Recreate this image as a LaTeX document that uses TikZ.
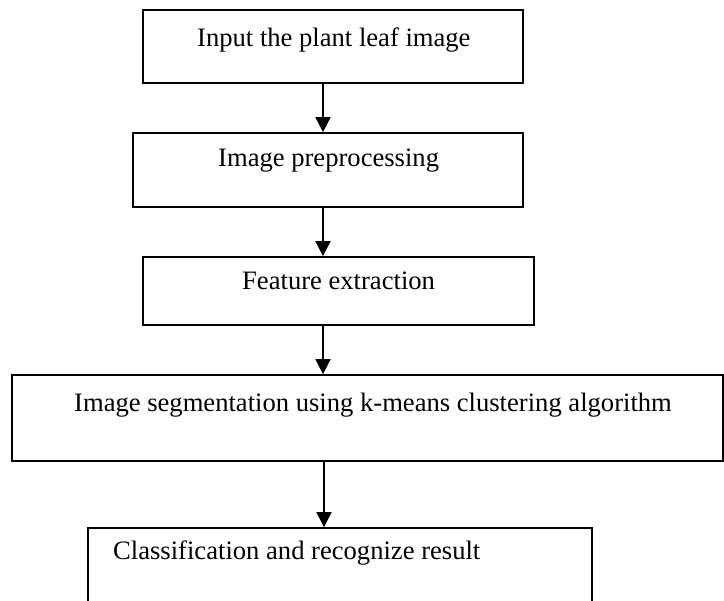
\documentclass[tikz,border=0pt]{standalone}
\usepackage{fontspec}
\setmainfont{Liberation Serif}
\usetikzlibrary{arrows.meta}
\begin{document}
\begin{tikzpicture}[x=1pt,y=-1pt,
  box/.style={draw=black,line width=1.7pt,rectangle,inner sep=0pt,fill=none},
  lbl/.style={anchor=base west,inner sep=0pt,font=\fontsize{26.6}{30}\selectfont},
  arr/.style={line width=1.7pt,-{Triangle[width=15pt,length=15pt]}}]
\clip (0,0) rectangle (724,601);
\fill[white] (0,0) rectangle (724,601);
\node[box,minimum width=380pt,minimum height=73pt] (b1) at (333,46.5) {};
\node[box,minimum width=390pt,minimum height=74pt] (b2) at (328,170) {};
\node[box,minimum width=391pt,minimum height=68pt] (b3) at (338.5,291) {};
\node[box,minimum width=711pt,minimum height=86pt] (b4) at (367.5,418) {};
\node[box,minimum width=504pt,minimum height=112pt] (b5) at (340,584) {};
\node[lbl] (t1) at (197,47) {Input the plant leaf image};
\node[lbl] (t2) at (218,167) {Image preprocessing};
\node[lbl] (t3) at (242,290) {Feature extraction};
\node[lbl] (t4) at (74,412) {Image segmentation using k-means clustering algorithm};
\node[lbl] (t5) at (113,560) {Classification and recognize result};
\coordinate (ax) at (323,0);
\coordinate (ax2) at (324,0);
\draw[arr] (b1.south -| ax) -- (b2.north -| ax);
\draw[arr] (b2.south -| ax) -- (b3.north -| ax);
\draw[arr] (b3.south -| ax) -- (b4.north -| ax);
\draw[arr] (b4.south -| ax2) -- (b5.north -| ax2);
\end{tikzpicture}
\end{document}
